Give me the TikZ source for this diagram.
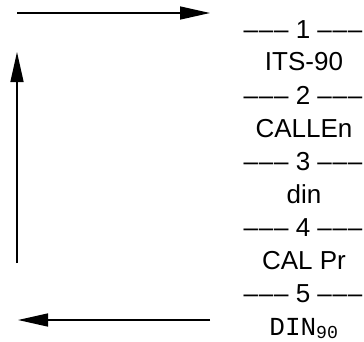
\documentclass[tikz,border=0pt]{standalone}
\usepackage{fontspec}
\setmainfont{Liberation Sans}
\newfontfamily\monofont{Liberation Mono}
\usetikzlibrary{arrows.meta}
\newcommand{\dashrun}{–\kern0.8pt–\kern0.8pt–}

\begin{document}
\begin{tikzpicture}[x=1pt, y=-1pt,
    every node/.style = {font=\fontsize{26}{30}\selectfont,
        inner sep=0pt, anchor=base},
    flow/.style = {line width=1.5pt,
        -{Triangle[length=30pt, width=13pt]}}]
\useasboundingbox (0,0) rectangle (364,341);
% column of labels
\node (sep1) at (303,38) {\dashrun{} 1 \dashrun};
\node (its) at (304,70) {ITS-90};
\node (sep2) at (303,104) {\dashrun{} 2 \dashrun};
\node (callen) at (304,137) {CALLEn};
\node (sep3) at (303,170) {\dashrun{} 3 \dashrun};
\node (din) at (304,203) {din};
\node (sep4) at (303,236) {\dashrun{} 4 \dashrun};
\node (calpr) at (304,269) {CAL Pr};
\node (sep5) at (303,302) {\dashrun{} 5 \dashrun};
\node (din90) at (304,335) {\monofont DIN\textsubscript{90}};
% arrows
\coordinate (topL) at (17,13);
\coordinate (topR) at (210,13);
\coordinate (upB) at (17,263);
\coordinate (upT) at (17,52);
\coordinate (botR) at (210,320);
\coordinate (botL) at (18,320);
\draw[flow] (topL) -- (topR);
\draw[flow] (upB) -- (upT);
\draw[flow] (botR) -- (botL);
\end{tikzpicture}
\end{document}
